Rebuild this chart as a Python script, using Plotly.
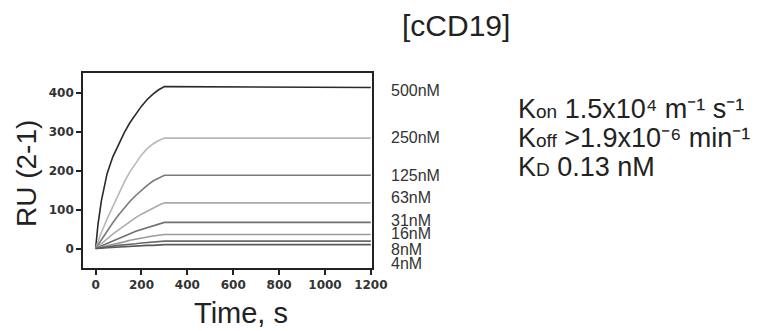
import plotly.graph_objects as go

# ---- data ----
time_s = [0, 10, 25, 50, 75, 100, 125, 150, 175, 200, 225, 250, 275, 300, 1200]
concentrations = ["500nM", "250nM", "125nM", "63nM", "31nM", "16nM", "8nM", "4nM"]
ru_500 = [0, 60, 122, 192, 235, 268, 297, 323, 345, 365, 382, 396, 407, 415, 413]
ru_250 = [0, 17, 41, 76, 108, 140, 170, 197, 220, 240, 256, 268, 277, 283, 283]
ru_125 = [0, 9, 23, 45, 66, 86, 104, 121, 136, 150, 162, 173, 181, 188, 188]
ru_63 = [0, 5, 13, 25, 37, 48, 59, 70, 79, 88, 96, 104, 111, 117, 117]
ru_31 = [0, 3, 7, 13, 19, 26, 32, 38, 44, 49, 54, 58, 63, 67, 67]
ru_16 = [0, 1, 4, 7, 10, 14, 17, 21, 24, 27, 30, 32, 34, 36, 36]
ru_8 = [0, 1, 2, 4, 6, 8, 9, 11, 12, 14, 15, 16, 18, 19, 19]
ru_4 = [0, 0, 1, 2, 3, 4, 5, 5, 6, 7, 8, 8, 9, 10, 10]
label_y = [406, 284, 188, 131, 71, 38, -2, -38]
x_ticks = [0, 200, 400, 600, 800, 1000, 1200]
y_ticks = [0, 100, 200, 300, 400]

series = [ru_500, ru_250, ru_125, ru_63, ru_31, ru_16, ru_8, ru_4]
colors = ["#2a2a2a", "#b8b8b8", "#7a7a7a", "#ababab", "#707070", "#9a9a9a", "#6a6a6a", "#5a5a5a"]

fig = go.Figure()
for name, vals, col in zip(concentrations, series, colors):
    fig.add_trace(go.Scatter(x=time_s, y=vals, mode="lines", name=name,
                             line=dict(color=col, width=1.6), showlegend=False))

W, H = 765, 331
L, R, T, B = 83, 372, 73, 268


def px(xp):
    return (xp - L) / (R - L)


def py(yp):
    return (B - yp) / (B - T)


ann = []
for name, yv in zip(concentrations, label_y):
    ann.append(dict(text=name, xref="paper", x=1, xanchor="left", xshift=17,
                    yref="y", y=yv, yanchor="middle", showarrow=False,
                    font=dict(family="Liberation Sans, Arial", size=16, color="#333")))

txt_font = dict(family="Liberation Sans, Arial", size=27, color="#222")
ann.append(dict(text="[cCD19]", xref="paper", yref="paper", x=px(456), y=py(26),
                xanchor="center", yanchor="middle", showarrow=False,
                font=dict(family="Liberation Sans, Arial", size=30, color="#222")))
lines = [
    "K<span style='font-size:19px'>on</span> 1.5x10⁴ m⁻¹ s⁻¹",
    "K<span style='font-size:19px'>off</span> >1.9x10⁻⁶ min⁻¹",
    "K<span style='font-size:19px'>D</span> 0.13 nM",
]
for i, t in enumerate(lines):
    ann.append(dict(text=t, xref="paper", yref="paper", x=px(516), y=py(109 + 29 * i),
                    xanchor="left", yanchor="middle", showarrow=False, font=txt_font))
ann.append(dict(text="Time, s", xref="paper", yref="paper", x=px(241), y=py(313),
                xanchor="center", yanchor="middle", showarrow=False,
                font=dict(family="Liberation Sans, Arial", size=29, color="#222")))
ann.append(dict(text="RU (2-1)", xref="paper", yref="paper", x=px(26), y=py(174),
                xanchor="center", yanchor="middle", textangle=-90, showarrow=False,
                font=dict(family="Liberation Sans, Arial", size=28, color="#222")))

axis_common = dict(showline=True, linecolor="#222", linewidth=1.6, mirror=True,
                   ticks="outside", ticklen=5, tickwidth=1.6, tickcolor="#222",
                   showgrid=False, zeroline=False,
                   tickfont=dict(family="DejaVu Sans", size=12, color="#333", weight="bold"))

fig.update_layout(
    width=W, height=H,
    margin=dict(l=L, r=W - R, t=T, b=H - B, pad=0),
    paper_bgcolor="white", plot_bgcolor="white",
    xaxis=dict(range=[-55, 1205], tickvals=x_ticks, **axis_common),
    yaxis=dict(range=[-50, 450], tickvals=y_ticks, **axis_common),
    annotations=ann,
)
fig.write_html("out.html", config={"displayModeBar": False},
               post_script="document.body.style.margin='0';document.body.style.overflow='hidden';")
